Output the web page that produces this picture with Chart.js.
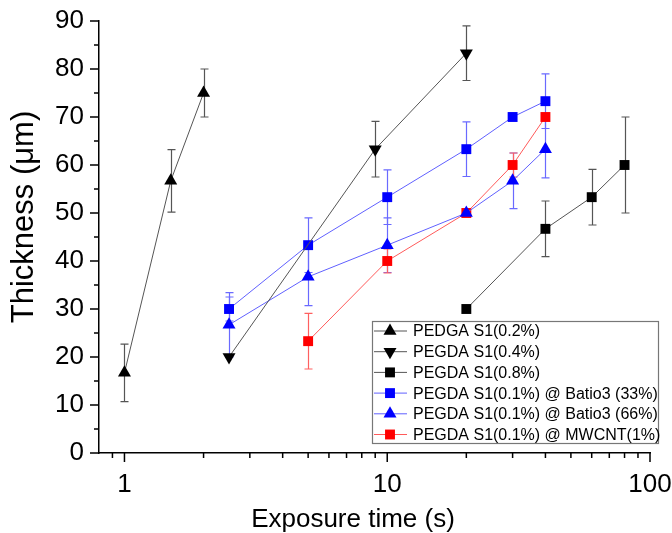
<!DOCTYPE html>
<html>
<head>
<meta charset="utf-8">
<script src="https://cdn.jsdelivr.net/npm/chart.js@4.4.0/dist/chart.umd.min.js"></script>
<style>
  html, body { margin: 0; padding: 0; background: #fff; }
  #chart { display: block; }
</style>
</head>
<body>
<canvas id="chart" width="672" height="533"></canvas>
<script>
// Series data (x = exposure time in s, y = thickness in µm, err = +/- error)
const labels = [
    'PEDGA S1(0.2%)',
    'PEGDA S1(0.4%)',
    'PEGDA S1(0.8%)',
    'PEGDA S1(0.1%) @ Batio3 (33%)',
    'PEGDA S1(0.1%) @ Batio3 (66%)',
    'PEGDA S1(0.1%) @ MWCNT(1%)'
];

const s02X = [1, 1.5, 2];
const s02Y = [16.7, 56.7, 75];
const s02Err = [6, 6.5, 5];

const s04X = [2.5, 9, 20];
const s04Y = [20, 63.3, 83.3];
const s04Err = [0, 5.8, 5.7];

const s08X = [20, 40, 60, 80];
const s08Y = [30, 46.7, 53.3, 60];
const s08Err = [0, 5.8, 5.8, 10];

const bt33X = [2.5, 5, 10, 20, 30, 40];
const bt33Y = [30, 43.3, 53.3, 63.3, 70, 73.3];
const bt33Err = [2.5, 5.7, 5.7, 5.7, 0, 5.7];

const bt66X = [2.5, 5, 10, 20, 30, 40];
const bt66Y = [26.7, 36.7, 43.3, 50, 56.7, 63.3];
const bt66Err = [6.7, 6, 5.7, 0, 5.8, 6];

const cntX = [5, 10, 20, 30, 40];
const cntY = [23.3, 40, 50, 60, 70];
const cntErr = [5.8, 2.5, 0, 2.5, 0];

const yTicks = [0, 10, 20, 30, 40, 50, 60, 70, 80, 90];
const xLabelTicks = [1, 10, 100];
const xTitle = 'Exposure time (s)';
const yTitle = 'Thickness (\u03bcm)';

const FONT = '"Liberation Sans", Arial, sans-serif';

const toPoints = (xs, ys) => xs.map((x, i) => ({ x: x, y: ys[i] }));

const makeSet = (label, xs, ys, errs, style) => ({
    label: label,
    data: toPoints(xs, ys),
    errors: errs,
    errColor: style.errColor,
    borderColor: style.line,
    borderWidth: 1,
    backgroundColor: style.fill,
    pointBackgroundColor: style.fill,
    pointBorderColor: style.fill,
    pointBorderWidth: 0,
    pointStyle: style.shape,
    pointRotation: style.rotation || 0,
    pointRadius: style.radius,
    pointHoverRadius: style.radius,
    tension: 0,
    fill: false
});

const black = { line: '#555', fill: '#000', errColor: '#555' };
const blue = { line: '#6060ff', fill: '#0000ff', errColor: '#6a6aff' };
const red = { line: '#ff5a5a', fill: '#ff0000', errColor: '#ff6060' };

const datasets = [
    makeSet(labels[0], s02X, s02Y, s02Err, { ...black, shape: 'triangle', radius: 7.5 }),
    makeSet(labels[1], s04X, s04Y, s04Err, { ...black, shape: 'triangle', rotation: 180, radius: 7.5 }),
    makeSet(labels[2], s08X, s08Y, s08Err, { ...black, shape: 'rect', radius: 7 }),
    makeSet(labels[3], bt33X, bt33Y, bt33Err, { ...blue, shape: 'rect', radius: 7 }),
    makeSet(labels[4], bt66X, bt66Y, bt66Err, { ...blue, shape: 'triangle', radius: 7.5 }),
    makeSet(labels[5], cntX, cntY, cntErr, { ...red, shape: 'rect', radius: 7 })
];

// Error bars with caps, drawn under the markers
const errorBars = {
    id: 'errorBars',
    beforeDatasetsDraw(chart) {
        const ctx = chart.ctx;
        const xs = chart.scales.x;
        const ys = chart.scales.y;
        ctx.save();
        chart.data.datasets.forEach(ds => {
            ctx.strokeStyle = ds.errColor;
            ctx.lineWidth = 1.2;
            ds.data.forEach((p, i) => {
                const e = ds.errors[i];
                if (!e) return;
                const px = Math.round(xs.getPixelForValue(p.x)) + 0.5;
                const top = ys.getPixelForValue(p.y + e);
                const bot = ys.getPixelForValue(p.y - e);
                ctx.beginPath();
                ctx.moveTo(px, top);
                ctx.lineTo(px, bot);
                ctx.moveTo(px - 4, top);
                ctx.lineTo(px + 4, top);
                ctx.moveTo(px - 4, bot);
                ctx.lineTo(px + 4, bot);
                ctx.stroke();
            });
        });
        ctx.restore();
    }
};

// Outward major / minor tick marks, x tick labels and the two axis titles
const axisDecor = {
    id: 'axisDecor',
    afterDraw(chart) {
        const ctx = chart.ctx;
        const xs = chart.scales.x;
        const ys = chart.scales.y;
        const area = chart.chartArea;
        ctx.save();
        ctx.strokeStyle = '#000';
        ctx.lineWidth = 1.5;
        ctx.beginPath();
        for (let v = 0; v <= 90; v += 5) {
            const py = ys.getPixelForValue(v);
            const len = v % 10 === 0 ? 9 : 5;
            ctx.moveTo(area.left, py);
            ctx.lineTo(area.left - len, py);
        }
        [1, 10].forEach(dec => {
            for (let k = 1; k <= 9; k++) {
                const px = xs.getPixelForValue(dec * k);
                ctx.moveTo(px, area.bottom);
                ctx.lineTo(px, area.bottom + (k === 1 ? 9 : 5));
            }
        });
        [0.9, 100].forEach(v => {
            const px = xs.getPixelForValue(v);
            ctx.moveTo(px, area.bottom);
            ctx.lineTo(px, area.bottom + (v === 100 ? 9 : 5));
        });
        ctx.stroke();

        ctx.fillStyle = '#000';
        ctx.textAlign = 'center';
        ctx.textBaseline = 'alphabetic';
        ctx.font = '26px ' + FONT;
        xLabelTicks.forEach(v => {
            ctx.fillText(String(v), xs.getPixelForValue(v), area.bottom + 39);
        });

        ctx.fillText(xTitle, 353, 527);

        ctx.translate(33, 217);
        ctx.rotate(-Math.PI / 2);
        ctx.font = '31px ' + FONT;
        ctx.fillText(yTitle, 0, 0);
        ctx.restore();
    }
};

// Boxed legend in the lower right, as in the original
const boxLegend = {
    id: 'boxLegend',
    afterDraw(chart) {
        const ctx = chart.ctx;
        const left = 372, top = 321, width = 286, height = 122;
        const rowH = 20.7;
        ctx.save();
        ctx.fillStyle = '#fff';
        ctx.fillRect(left, top, width, height);
        ctx.strokeStyle = '#777';
        ctx.lineWidth = 1.2;
        ctx.strokeRect(left + 0.5, top + 0.5, width, height);
        chart.data.datasets.forEach((ds, i) => {
            const cy = top + 10 + i * rowH;
            ctx.strokeStyle = ds.borderColor;
            ctx.lineWidth = 1;
            ctx.beginPath();
            ctx.moveTo(left + 2, cy);
            ctx.lineTo(left + 35, cy);
            ctx.stroke();
            ctx.fillStyle = ds.pointBackgroundColor;
            ctx.strokeStyle = ds.pointBackgroundColor;
            Chart.helpers.drawPoint(ctx, {
                pointStyle: ds.pointStyle,
                rotation: ds.pointRotation,
                radius: ds.pointRadius,
                borderWidth: 0
            }, left + 18, cy);
            ctx.fillStyle = '#000';
            ctx.font = '16px ' + FONT;
            ctx.textBaseline = 'middle';
            ctx.textAlign = 'left';
            ctx.fillText(ds.label, left + 41, cy + 1);
        });
        ctx.restore();
    }
};

new Chart(document.getElementById('chart'), {
    type: 'line',
    data: { datasets: datasets },
    plugins: [errorBars, axisDecor, boxLegend],
    options: {
        responsive: false,
        animation: false,
        layout: { padding: { top: 21, right: 22, left: 0, bottom: 0 } },
        plugins: {
            legend: { display: false },
            tooltip: { enabled: false }
        },
        scales: {
            x: {
                type: 'logarithmic',
                min: 0.8,
                max: 100,
                afterFit(scale) {
                    scale.height = 80;
                    scale.paddingLeft = 0;
                    scale.paddingRight = 0;
                },
                grid: { display: false, drawTicks: false },
                border: { display: true, color: '#000', width: 1.5 },
                ticks: { display: false }
            },
            y: {
                min: 0,
                max: 90,
                afterFit(scale) {
                    scale.width = 99;
                    scale.paddingTop = 0;
                    scale.paddingBottom = 0;
                },
                afterBuildTicks(scale) {
                    scale.ticks = yTicks.map(v => ({ value: v }));
                },
                grid: { display: false, drawTicks: false },
                border: { display: true, color: '#000', width: 1.5 },
                ticks: {
                    padding: 15,
                    color: '#000',
                    font: { family: FONT, size: 26 }
                }
            }
        }
    }
});
</script>
</body>
</html>
